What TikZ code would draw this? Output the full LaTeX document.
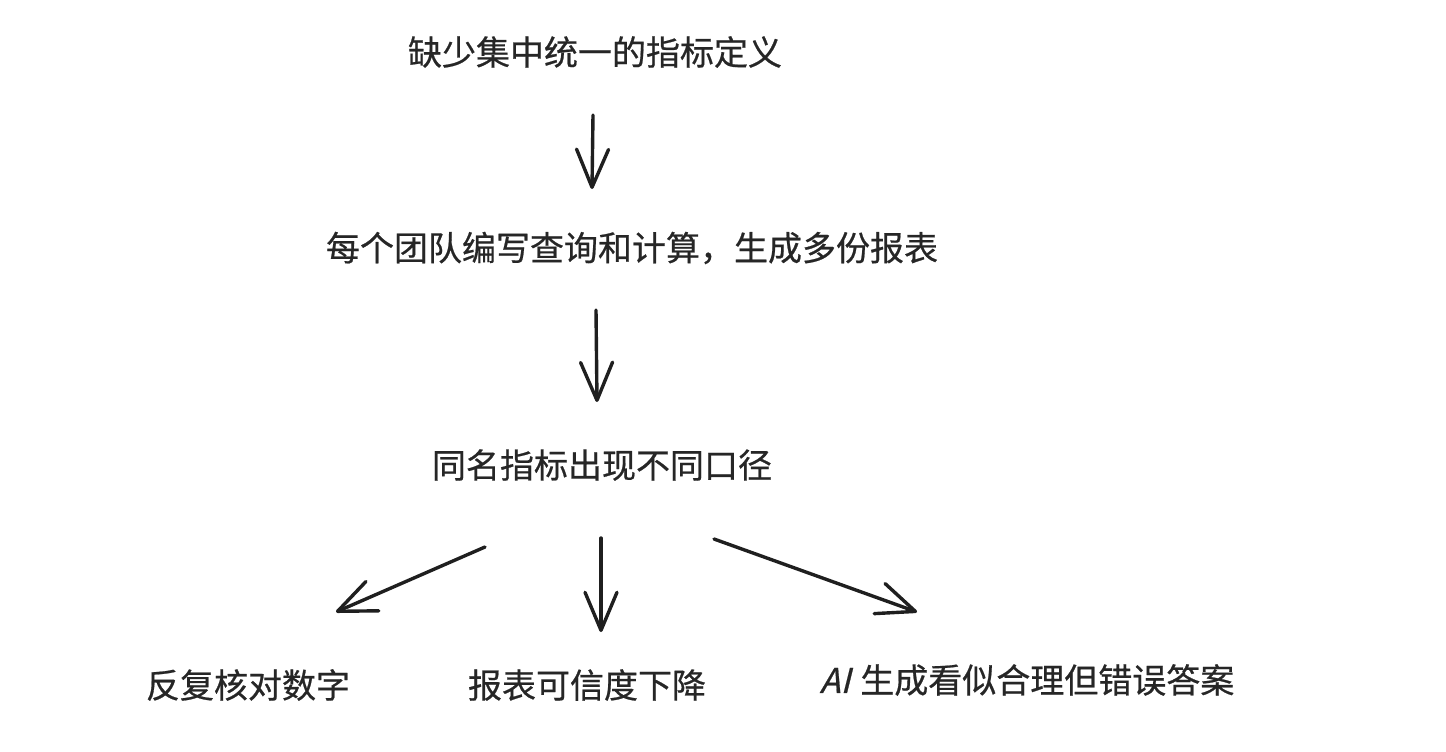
\documentclass[tikz,border=0pt]{standalone}
\usepackage{fontspec}
\newfontfamily\cjk[FakeBold=0.6]{Noto Sans CJK SC}
\newfontfamily\cjkit[FakeBold=0.6,FakeSlant=0.25]{Noto Sans CJK SC}
\usetikzlibrary{arrows.meta}
\tikzset{
  lbl/.style={font=\cjk\fontsize{34}{36}\selectfont, inner sep=0pt, text=black!85},
  flow/.style={line width=3.4pt, black!88, line cap=round, line join=round,
    -{Straight Barb[length=38pt,width=32pt,line width=3.4pt,round]}},
}
\begin{document}
\begin{tikzpicture}[x=1pt,y=-1pt]
\useasboundingbox (0,0) rectangle (1446,752);
\node[lbl] (t1) at (595,52) {缺少集中统一的指标定义};
\node[lbl] (t2) at (632,248) {每个团队编写查询和计算，生成多份报表};
\node[lbl] (t3) at (602,465) {同名指标出现不同口径};
\node[lbl] (b1) at (248,685) {反复核对数字};
\node[lbl] (b2) at (587,685) {报表可信度下降};
\node[lbl] (b3) at (1027,680) {{\cjkit AI}\hspace{10pt}生成看似合理但错误答案};
\coordinate (a1s) at (593,115);
\coordinate (a1e) at (592,189);
\coordinate (a2s) at (596,310);
\coordinate (a2e) at (597,402);
\coordinate (a3s) at (485,547);
\coordinate (a3e) at (336,612);
\coordinate (a4s) at (601,538);
\coordinate (a4e) at (601,632);
\coordinate (a5s) at (714,539);
\coordinate (a5e) at (917,612);
\draw[flow] (a1s) -- (a1e);
\draw[flow] (a2s) -- (a2e);
\draw[flow] (a3s) -- (a3e);
\draw[flow] (a4s) -- (a4e);
\draw[flow] (a5s) -- (a5e);
\end{tikzpicture}
\end{document}
